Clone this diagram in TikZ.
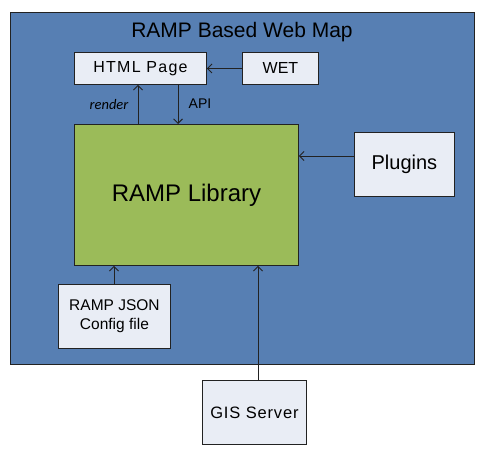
\documentclass[tikz,border=0pt]{standalone}
\usepackage{fontspec}
\setmainfont{Liberation Sans}
\newfontfamily\calib{Carlito}
\usetikzlibrary{arrows.meta}
\definecolor{outerblue}{HTML}{577FB3}
\definecolor{libgreen}{HTML}{9BBB59}
\definecolor{boxfill}{HTML}{E9EDF5}
\definecolor{edge}{HTML}{222222}
\tikzset{
  wbox/.style={draw=edge, line width=0.9pt, fill=boxfill, inner sep=0pt, anchor=north west, align=center},
  conn/.style={draw=edge, line width=0.9pt, -{Straight Barb[length=4.5pt,width=9pt]}},
}
\begin{document}
\begin{tikzpicture}[x=1pt,y=-1pt]
\useasboundingbox (0,0) rectangle (484,452);
\fill[white] (0,0) rectangle (484,452);
% outer container
\node[draw=edge, line width=0.9pt, fill=outerblue, minimum width=464pt, minimum height=352pt, anchor=north west, inner sep=0pt] (web) at (10,12) {};
\node[font=\fontsize{21}{24}\selectfont] (title) at (242,32) {RAMP Based Web Map};
% boxes
\node[wbox, minimum width=132pt, minimum height=32pt, font=\fontsize{16}{18}\selectfont\addfontfeature{LetterSpace=8}] (html) at (74,52) {HTML Page};
\node[wbox, minimum width=76pt, minimum height=32pt, font=\fontsize{16}{18}\selectfont] (wet) at (242,52) {WET};
\node[wbox, fill=libgreen, minimum width=224pt, minimum height=141pt, font=\fontsize{24}{28}\selectfont] (lib) at (74,124) {RAMP Library};
\node[wbox, minimum width=100pt, minimum height=64pt, font=\fontsize{20}{24}\selectfont] (plug) at (354,132) {Plugins};
\node[wbox, minimum width=112pt, minimum height=64pt, font=\fontsize{15.5}{19}\selectfont] (json) at (58,284) {RAMP JSON\\Config file};
\node[wbox, minimum width=104pt, minimum height=64pt, font=\fontsize{16.5}{20}\selectfont\addfontfeature{LetterSpace=5}] (gis) at (202,380) {GIS Server};
% connectors
\draw[conn] (wet.west) -- (html.east);
\draw[conn] (lib.north -| 138,0) -- (html.south -| 138,0);
\draw[conn] (html.south -| 178,0) -- (lib.north -| 178,0);
\draw[conn] (plug.west |- 0,156) -- (lib.east |- 0,156);
\draw[conn] (json.north -| 114,0) -- (lib.south -| 114,0);
\draw[conn] (gis.north -| 258,0) -- (lib.south -| 258,0);
% labels
\node[font=\calib\itshape\fontsize{14.5}{16}\selectfont] (lrender) at (109,105) {render};
\node[font=\fontsize{14}{16}\selectfont] (lapi) at (200,104) {API};
\end{tikzpicture}
\end{document}
